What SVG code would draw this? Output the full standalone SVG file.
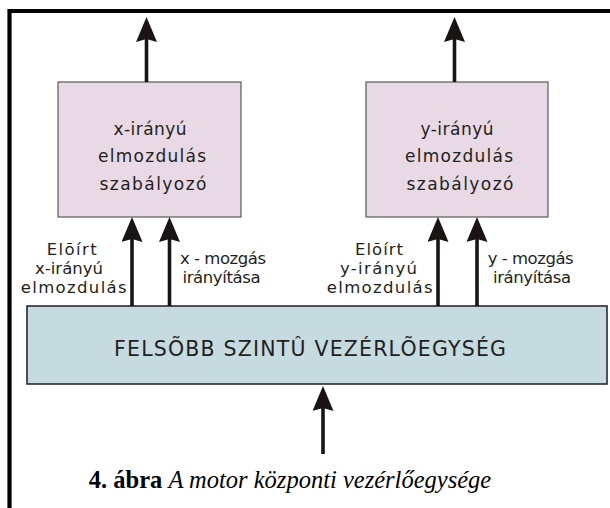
<svg xmlns="http://www.w3.org/2000/svg" width="610" height="508" viewBox="0 0 610 508">
<defs>
<style>
.pink{fill:#e8d9e4;stroke:#5a5a5a;stroke-width:1.2}
.blue{fill:#c6dbe0;stroke:#2a2a2a;stroke-width:1.6}
.t{font-family:"DejaVu Sans",sans-serif;font-size:16.5px;fill:#231f20}
.p{font-family:"DejaVu Sans",sans-serif;font-size:17px;fill:#231f20}
.b{font-family:"DejaVu Sans",sans-serif;font-size:20.5px;fill:#231f20}
.w{stroke:#1a1414;stroke-width:3.6;fill:none}
.cap{font-family:"Liberation Serif",serif;font-size:24.5px;fill:#000}
</style>
<marker id="ah" markerUnits="userSpaceOnUse" markerWidth="25" markerHeight="21" refX="3" refY="10.5" orient="auto" viewBox="0 0 25 21">
<path d="M25,10.5 L0,0 L3,10.5 L0,21 Z" fill="#1a1414"/>
</marker>
</defs>
<rect width="610" height="508" fill="#fff"/>
<path d="M9.5,508 V11 H612" stroke="#000" stroke-width="4.2" fill="none"/>

<g id="ctrl-x">
<rect class="pink" x="58" y="82" width="183" height="135"/>
<text class="p" text-anchor="middle" x="150" y="135" textLength="73" lengthAdjust="spacing">x-irányú</text>
<text class="p" text-anchor="middle" x="152" y="162" textLength="108" lengthAdjust="spacing">elmozdulás</text>
<text class="p" text-anchor="middle" x="153" y="190" textLength="107" lengthAdjust="spacing">szabályozó</text>
</g>
<g id="ctrl-y">
<rect class="pink" x="366" y="82" width="182" height="135"/>
<text class="p" text-anchor="middle" x="457" y="135" textLength="73" lengthAdjust="spacing">y-irányú</text>
<text class="p" text-anchor="middle" x="459" y="162" textLength="108" lengthAdjust="spacing">elmozdulás</text>
<text class="p" text-anchor="middle" x="460" y="190" textLength="107" lengthAdjust="spacing">szabályozó</text>
</g>
<g id="upper">
<rect class="blue" x="27" y="306" width="580" height="78"/>
<text class="b" text-anchor="middle" x="310" y="356" textLength="392" lengthAdjust="spacing">FELSÕBB SZINTÛ VEZÉRLÕEGYSÉG</text>
</g>

<g id="connectors">
<line class="w" x1="146.5" y1="82" x2="146.5" y2="39" marker-end="url(#ah)"/>
<line class="w" x1="454.5" y1="82" x2="454.5" y2="39" marker-end="url(#ah)"/>
<line class="w" x1="132" y1="306" x2="132" y2="239" marker-end="url(#ah)"/>
<line class="w" x1="169.5" y1="306" x2="169.5" y2="239" marker-end="url(#ah)"/>
<line class="w" x1="438" y1="306" x2="438" y2="239" marker-end="url(#ah)"/>
<line class="w" x1="477" y1="306" x2="477" y2="239" marker-end="url(#ah)"/>
<line class="w" x1="323" y1="454" x2="323" y2="408" marker-end="url(#ah)"/>
</g>

<g id="labels">
<text class="t" x="46.7" y="255" textLength="50" lengthAdjust="spacing">Elõírt</text>
<text class="t" x="35" y="274" textLength="68" lengthAdjust="spacing">x-irányú</text>
<text class="t" x="20.7" y="293" textLength="106" lengthAdjust="spacing">elmozdulás</text>
<text class="t" x="180" y="264" textLength="86" lengthAdjust="spacing">x - mozgás</text>
<text class="t" x="182.5" y="283" textLength="78" lengthAdjust="spacing">irányítása</text>
<text class="t" x="355" y="255" textLength="48" lengthAdjust="spacing">Elõírt</text>
<text class="t" x="340" y="274" textLength="77" lengthAdjust="spacing">y-irányú</text>
<text class="t" x="326.7" y="293" textLength="106" lengthAdjust="spacing">elmozdulás</text>
<text class="t" x="487.7" y="264" textLength="86" lengthAdjust="spacing">y - mozgás</text>
<text class="t" x="493" y="283" textLength="78" lengthAdjust="spacing">irányítása</text>
</g>

<text class="cap" text-anchor="middle" x="290" y="488"><tspan font-weight="bold">4. ábra</tspan> <tspan font-style="italic">A motor központi vezérlőegysége</tspan></text>
</svg>
